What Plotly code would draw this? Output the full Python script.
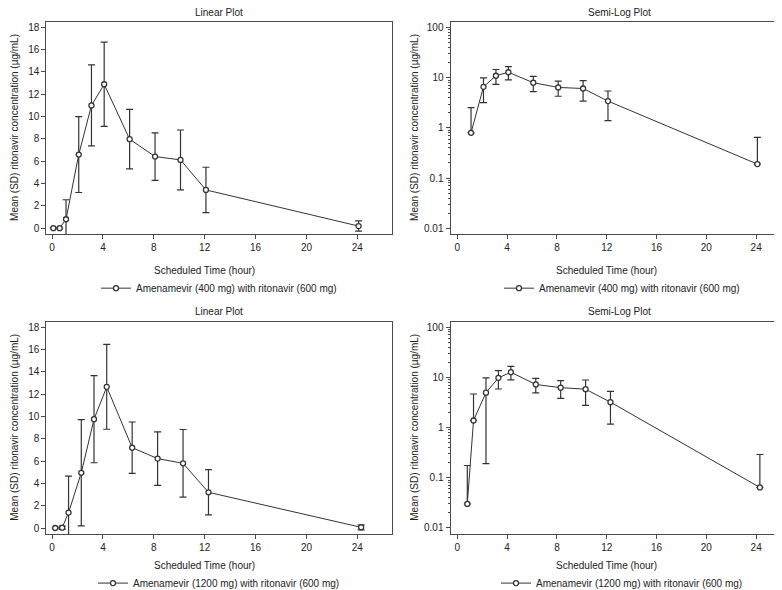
import plotly.graph_objects as go

# ---- data ----
t400 = [0.1, 0.6, 1.1, 2.1, 3.1, 4.1, 6.1, 8.1, 10.1, 12.1, 24.1]
mean400 = [0, 0, 0.8, 6.6, 11.0, 12.9, 7.98, 6.42, 6.12, 3.43, 0.19]
sd400 = [0, 0, 1.75, 3.4, 3.63, 3.78, 2.67, 2.13, 2.68, 2.03, 0.46]

t1200 = [0.25, 0.8, 1.3, 2.3, 3.3, 4.3, 6.3, 8.3, 10.3, 12.3, 24.3]
mean1200 = [0, 0.03, 1.38, 4.95, 9.75, 12.65, 7.2, 6.22, 5.8, 3.2, 0.064]
sd1200 = [0, 0.145, 3.27, 4.76, 3.9, 3.8, 2.3, 2.4, 3.03, 2.03, 0.226]

name400 = "Amenamevir (400 mg) with ritonavir (600 mg)"
name1200 = "Amenamevir (1200 mg) with ritonavir (600 mg)"
panel_titles = ["Linear Plot", "Semi-Log Plot", "Linear Plot", "Semi-Log Plot"]
x_title = "Scheduled Time (hour)"
y_title = "Mean (SD) ritonavir concentration (µg/mL)"
x_ticks = [0, 4, 8, 12, 16, 20, 24]
lin_ticks = [0, 2, 4, 6, 8, 10, 12, 14, 16, 18]
log_ticks = [0.01, 0.1, 1, 10, 100]

W, H = 782, 590
INK = "#333333"
FRAME = "#4a4a4a"
FONT = "Liberation Sans, Arial, sans-serif"

def px_x(p):
    return p / W

def px_y(p):
    return 1 - p / H

xdom_l = [px_x(38.3), px_x(384.3)]
xdom_r = [px_x(442.5), px_x(780.5)]
ydom_t = [px_y(230), px_y(14)]
ydom_b = [px_y(535), px_y(319)]

fig = go.Figure()

def add_series(t, m, s, name, xa, ya, legend, log):
    if log:
        tt, mm, up, dn = [], [], [], []
        for ti, mi, si in zip(t, m, s):
            if mi > 0:
                tt.append(ti)
                mm.append(mi)
                up.append(si)
                dn.append(si if mi - si > 0 else 0)
    else:
        tt, mm, up, dn = t, m, s, s
    fig.add_trace(go.Scatter(
        x=tt, y=mm, mode="lines+markers", name=name,
        xaxis=xa, yaxis=ya, legend=legend, showlegend=True,
        line=dict(color=INK, width=1),
        marker=dict(symbol="circle", size=5, color="white",
                    line=dict(color=INK, width=1.3)),
        error_y=dict(type="data", symmetric=False, array=up, arrayminus=dn,
                     color=INK, thickness=1.2, width=3.5),
    ))

add_series(t400, mean400, sd400, name400, "x", "y", "legend", False)
add_series(t400, mean400, sd400, name400, "x2", "y2", "legend2", True)
add_series(t1200, mean1200, sd1200, name1200, "x3", "y3", "legend3", False)
add_series(t1200, mean1200, sd1200, name1200, "x4", "y4", "legend4", True)

axis_common = dict(
    showline=True, mirror=True, linecolor=FRAME, linewidth=1,
    ticks="outside", ticklen=4, tickwidth=1, tickcolor=FRAME,
    showgrid=False, zeroline=False,
    tickfont=dict(size=10, color="#222222", family=FONT),
)

def xaxis(dom, anchor, rng):
    return dict(domain=dom, anchor=anchor, range=rng,
                tickmode="array", tickvals=x_ticks, **axis_common)

def ylin(dom, anchor):
    return dict(domain=dom, anchor=anchor, range=[-0.53, 18.5],
                tickmode="array", tickvals=lin_ticks, **axis_common)

def ylog(dom, anchor, rng):
    return dict(domain=dom, anchor=anchor, type="log", range=rng,
                tickmode="array", tickvals=log_ticks,
                ticktext=[str(v) for v in log_ticks],
                minor=dict(ticks="outside", ticklen=2, tickcolor=FRAME,
                           tickvals=[k * 10 ** e for e in range(-2, 2) for k in range(2, 10)]),
                **axis_common)

fig.update_layout(
    width=W, height=H, autosize=False,
    margin=dict(l=0, r=0, t=0, b=0),
    paper_bgcolor="white", plot_bgcolor="white",
    font=dict(family=FONT, size=10, color="#222222"),
    xaxis=xaxis(xdom_l, "y", [-0.45, 26.75]),
    yaxis=ylin(ydom_t, "x"),
    xaxis2=xaxis(xdom_r, "y2", [-0.55, 26.6]),
    yaxis2=ylog(ydom_t, "x2", [-2.118, 2.118]),
    xaxis3=xaxis(xdom_l, "y3", [-0.45, 26.75]),
    yaxis3=ylin(ydom_b, "x3"),
    xaxis4=xaxis(xdom_r, "y4", [-0.55, 26.6]),
    yaxis4=ylog(ydom_b, "x4", [-2.12, 2.11]),
)

leg = dict(xanchor="center", yanchor="middle", bgcolor="rgba(0,0,0,0)",
           font=dict(size=10, family=FONT, color="#222222"), orientation="h")
fig.update_layout(
    legend=dict(x=px_x(211), y=px_y(285), **leg),
    legend2=dict(x=px_x(614), y=px_y(285), **leg),
    legend3=dict(x=px_x(211), y=px_y(585), **leg),
    legend4=dict(x=px_x(614), y=px_y(585), **leg),
)

ann = []
centers = [px_x(211), px_x(611.5), px_x(211), px_x(611.5)]
title_y = [px_y(5), px_y(5), px_y(308.5), px_y(308.5)]
for i in range(4):
    ann.append(dict(text=panel_titles[i], x=centers[i], y=title_y[i],
                    xref="paper", yref="paper", showarrow=False,
                    xanchor="center", yanchor="middle",
                    font=dict(size=10, family=FONT, color="#222222")))
xrefs = ["x", "x2", "x3", "x4"]
yrefs = ["y", "y2", "y3", "y4"]
xt_y = [px_y(267.5), px_y(267.5), px_y(567.5), px_y(567.5)]
yt_x = [px_x(7), px_x(407), px_x(7), px_x(407)]
for i in range(4):
    ann.append(dict(text=x_title, x=12, y=xt_y[i], xref=xrefs[i], yref="paper",
                    showarrow=False, xanchor="center", yanchor="middle",
                    font=dict(size=10, family=FONT, color="#222222")))
    ann.append(dict(text=y_title, x=yt_x[i], y=0.5, xref="paper",
                    yref=yrefs[i] + " domain", showarrow=False, textangle=-90,
                    xanchor="center", yanchor="middle",
                    font=dict(size=10, family=FONT, color="#222222")))
fig.update_layout(annotations=ann)

fig.write_html("out.html")
